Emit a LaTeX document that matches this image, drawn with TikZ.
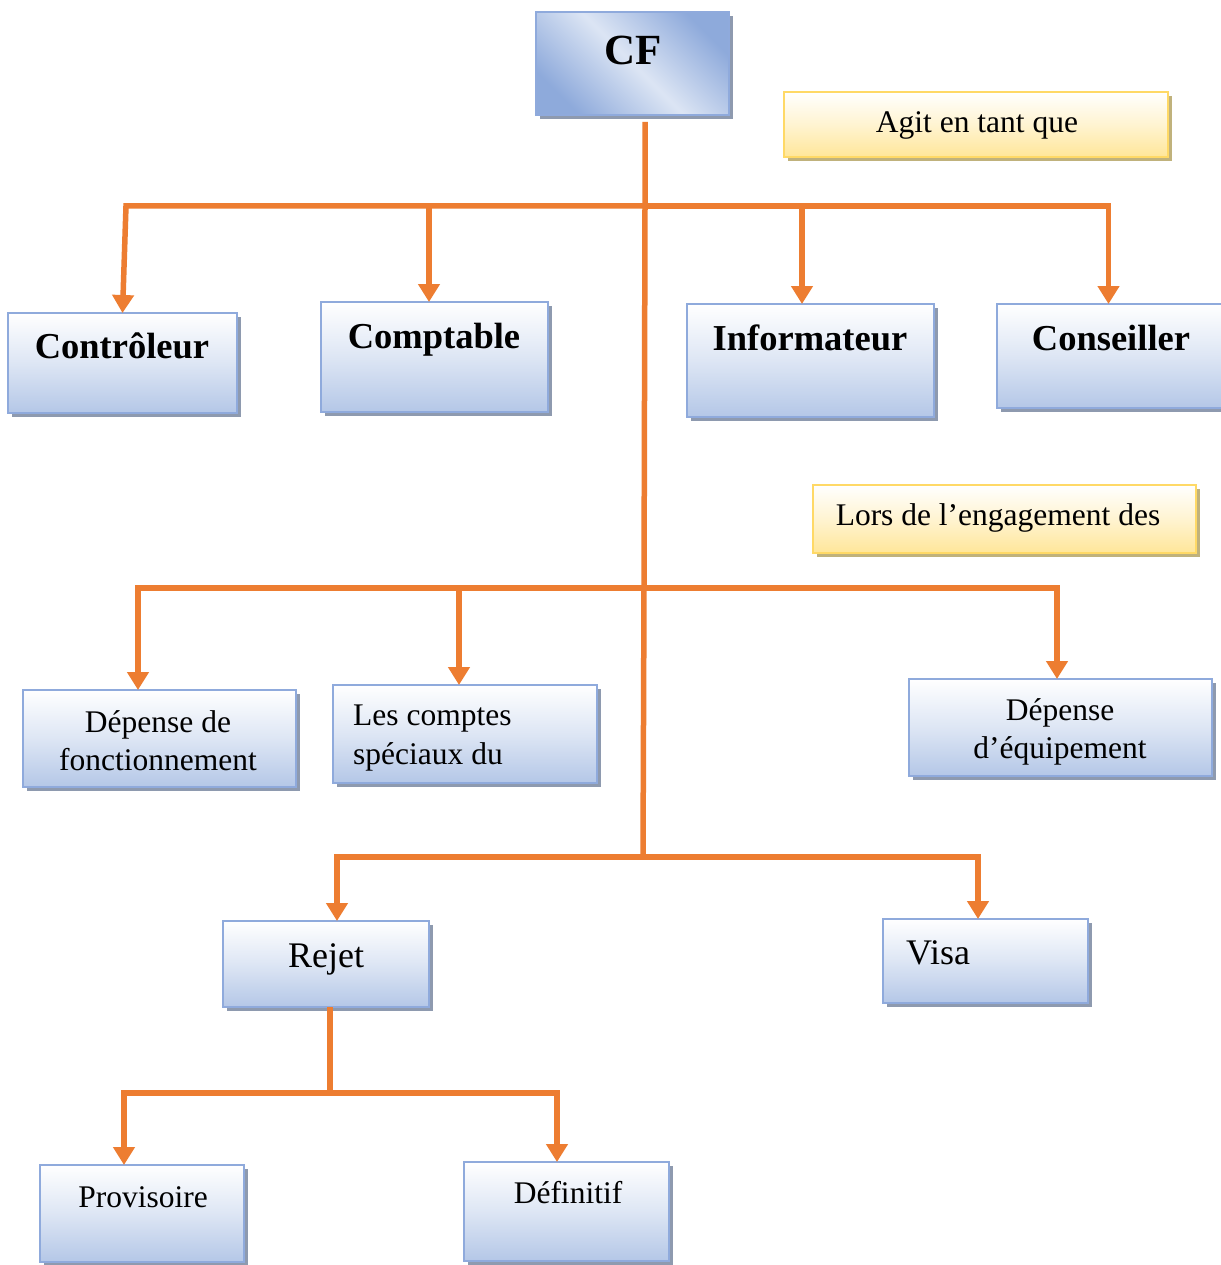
\documentclass[tikz,border=0pt]{standalone}
\usepackage{fontspec}
\setmainfont{Liberation Serif}
\usetikzlibrary{arrows.meta,backgrounds}

\definecolor{orangeC}{HTML}{ED7D31}
\definecolor{edgeB}{HTML}{8FAADC}
\definecolor{fillB}{HTML}{B4C7E7}
\definecolor{shadB}{HTML}{8E9AAF}
\definecolor{cfBlue}{HTML}{8EAADB}
\definecolor{cfLight}{HTML}{DCE5F4}
\definecolor{edgeY}{HTML}{FFD966}
\definecolor{fillY}{HTML}{FFE699}
\definecolor{shadY}{HTML}{C0B27C}

% box from its corners: style, x1, y1, x2, y2, name
\newcommand\mkbox[6]{%
  \node[#1, minimum width={#4-#2}, minimum height={#5-#3}] (#6)
    at ({(#2+#4)/2},{(#3+#5)/2}) {};}

\tikzset{
  bluebox/.style={rectangle, inner sep=0pt, outer sep=0pt, draw=edgeB,
    line width=2pt, top color=white, bottom color=fillB,
    middle color=fillB!45!white},
  cfbox/.style={rectangle, inner sep=0pt, outer sep=0pt, draw=edgeB,
    line width=2pt, top color=cfBlue, bottom color=cfBlue,
    middle color=cfLight, shading angle=-45},
  notebox/.style={rectangle, inner sep=0pt, outer sep=0pt, draw=edgeY,
    line width=2pt, top color=white, bottom color=fillY,
    middle color=fillY!45!white},
  txt/.style={anchor=base, inner sep=0pt, font=\fontsize{31.5}{38}\selectfont},
  bigtxt/.style={anchor=base, inner sep=0pt, font=\fontsize{36}{43}\selectfont},
  boldtxt/.style={anchor=base, inner sep=0pt, font=\fontsize{36.5}{43}\selectfont\bfseries},
  conn/.style={draw=orangeC, line width=5.5pt, line join=miter},
  arr/.style={conn, -{Triangle[width=21pt,length=18pt]}},
}

\newcommand\shadowof[2]{%
  \fill[#2] ([shift={(4pt,-4pt)}]#1.north west) rectangle ([shift={(4pt,-4pt)}]#1.south east);}

\begin{document}
\begin{tikzpicture}[x=1pt,y=-1pt]
  \useasboundingbox (0,0) rectangle (1220,1265);

  % boxes
  \mkbox{cfbox}{536}{12}{729}{115}{cf}
  \mkbox{notebox}{784}{92}{1168}{157}{agit}
  \mkbox{bluebox}{8}{313}{237}{413}{ctrl}
  \mkbox{bluebox}{321}{302}{548}{412}{compt}
  \mkbox{bluebox}{687}{304}{934}{417}{info}
  \mkbox{bluebox}{997}{304}{1226}{408}{cons}
  \mkbox{notebox}{813}{485}{1196}{553}{lors}
  \mkbox{bluebox}{23}{690}{296}{787}{dfon}
  \mkbox{bluebox}{333}{685}{597}{783}{lcs}
  \mkbox{bluebox}{909}{679}{1212}{776}{dequ}
  \mkbox{bluebox}{223}{921}{429}{1007}{rejet}
  \mkbox{bluebox}{883}{919}{1088}{1003}{visa}
  \mkbox{bluebox}{40}{1165}{244}{1262}{prov}
  \mkbox{bluebox}{464}{1162}{669}{1261}{defi}

  \begin{scope}[on background layer]
    \fill[white] (0,0) rectangle (1220,1265);
    \foreach \b in {cf,ctrl,compt,info,cons,dfon,lcs,dequ,rejet,visa,prov,defi}
      {\shadowof{\b}{shadB}}
    \foreach \b in {agit,lors}
      {\shadowof{\b}{shadY}}
  \end{scope}

  % labels
  \node[anchor=base, inner sep=0pt, font=\fontsize{43}{50}\selectfont\bfseries] (tcf) at (633,65) {CF};
  \node[txt] (tagit) at (977,133) {Agit en tant que};
  \node[boldtxt] (tctrl) at (122,358) {Contrôleur};
  \node[boldtxt] (tcompt) at (434,348) {Comptable};
  \node[boldtxt] (tinfo) at (810,350) {Informateur};
  \node[boldtxt] (tcons) at (1111,350) {Conseiller};
  \node[txt] (tlors) at (998,525) {Lors de l’engagement des};
  \node[txt] (tdfa) at (158,732) {Dépense de};
  \node[txt] (tdfb) at (158,770) {fonctionnement};
  \node[txt, anchor=base west] (tlca) at (353,725) {Les comptes};
  \node[txt, anchor=base west] (tlcb) at (353,764) {spéciaux du};
  \node[txt] (tdea) at (1060,720) {Dépense};
  \node[txt] (tdeb) at (1060,758) {d’équipement};
  \node[bigtxt] (trejet) at (326,967) {Rejet};
  \node[bigtxt, anchor=base west] (tvisa) at (906,964) {Visa};
  \node[txt] (tprov) at (143,1207) {Provisoire};
  \node[txt] (tdefi) at (568,1203) {Définitif};

  % junctions on the main trunk
  \coordinate (t0) at (645,122);
  \coordinate (j1) at (645,206);
  \coordinate (j2) at (644,588);
  \coordinate (j3) at (643,857);
  \coordinate (b1) at (429,206);
  \coordinate (b2) at (802,206);
  \coordinate (b3) at (459,588);
  \coordinate (j4) at (330,1093);

  % trunk
  \draw[conn] (t0) -- (j1) -- (j2) -- (j3);

  % first level
  \draw[arr] (j1) -- (126,206) -- (ctrl.north);
  \draw[arr] (j1) -| ([xshift=-3pt]cons.north);
  \draw[arr] (b1) -- (b1 |- compt.north);
  \draw[arr] (b2) -- (b2 |- info.north);

  % second level
  \draw[arr] (j2) -| ([xshift=-21.5pt]dfon.north);
  \draw[arr] (j2) -| ([xshift=-3.5pt]dequ.north);
  \draw[arr] (b3) -- (b3 |- lcs.north);

  % third level
  \draw[arr] (j3) -| ([xshift=11pt]rejet.north);
  \draw[arr] (j3) -| ([xshift=-7.5pt]visa.north);

  % under Rejet
  \draw[conn] ([xshift=4pt]rejet.south) -- (j4);
  \draw[arr] (j4) -| ([xshift=-18pt]prov.north);
  \draw[arr] (j4) -| ([xshift=-9.5pt]defi.north);
\end{tikzpicture}
\end{document}
